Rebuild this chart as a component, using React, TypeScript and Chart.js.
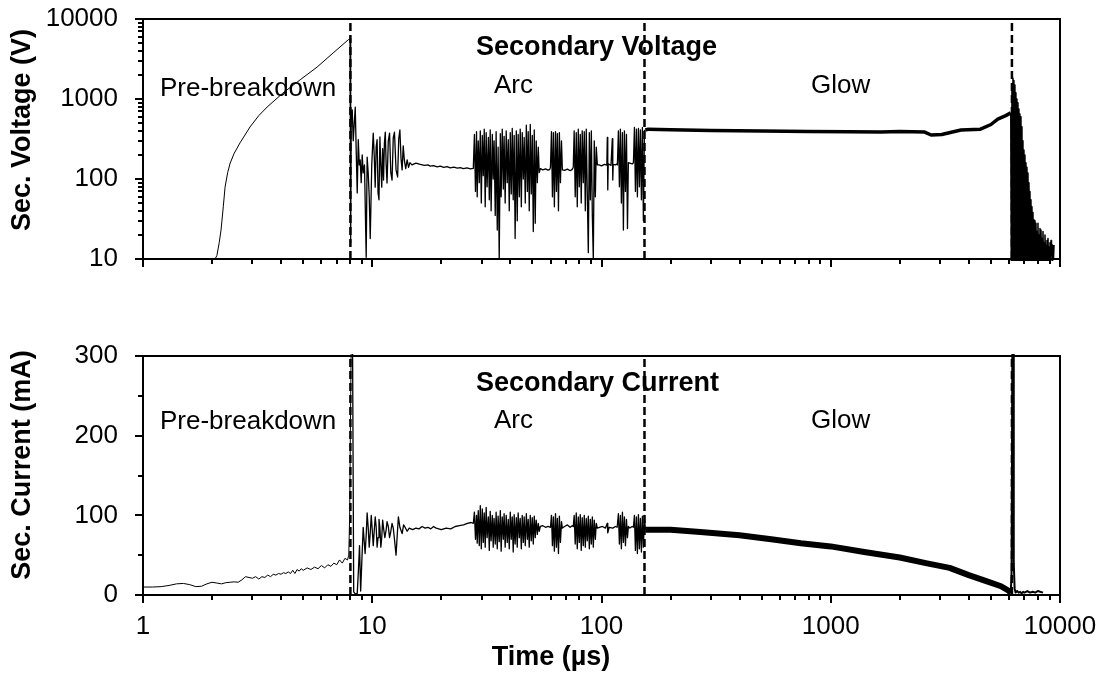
import React, { useEffect, useRef } from 'react';
import { Chart, registerables } from 'chart.js';

Chart.register(...registerables);

type Pt = [number, number];

// ---------- axis ticks / labels ----------
const timeTicks = [1, 10, 100, 1000, 10000];
const voltTicks = [10, 100, 1000, 10000];
const currTicks = [0, 100, 200, 300];
const currMinorTicks = [50, 150, 250];
const phaseBoundaries = [8.03, 154, 6170];
const phaseLabels = ['Pre-breakdown', 'Arc', 'Glow'];
const panelTitles = ['Secondary Voltage', 'Secondary Current'];
const axisTitles = ['Sec. Voltage (V)', 'Sec. Current (mA)', 'Time (\u00b5s)'];

// ---------- secondary voltage (time µs, volts) ----------
const voltPreBreakdown: Pt[] = [[2.06, 10], [2.1, 11], [2.15, 16], [2.19, 23], [2.24, 45], [2.28, 79], [2.34, 120], [2.4, 158], [2.5, 210], [2.65, 283], [2.93, 447], [3.2, 620], [3.48, 794], [4.08, 1190], [4.85, 1740], [5.75, 2510], [6.75, 3760], [7.86, 5500], [8.0, 5700]];

const voltArcRinging: Pt[] = [[8.0, 5700], [8.05, 16], [8.10, 700], [8.18, 730], [8.26, 300], [8.43, 790], [8.52, 200], [8.60, 67], [8.69, 310], [8.78, 150], [8.86, 173], [8.95, 90], [9.04, 200], [9.13, 119], [9.25, 150], [9.41, 10.5], [9.50, 188], [9.60, 120], [9.70, 60], [9.80, 18], [9.95, 150], [10.1, 375], [10.2, 200], [10.3, 79], [10.4, 250], [10.5, 310], [10.6, 67], [10.7, 55], [10.8, 335], [10.9, 150], [11.0, 79], [11.1, 240], [11.2, 97], [11.3, 283], [11.4, 385], [11.5, 150], [11.6, 89], [11.75, 300], [11.9, 375], [12.05, 120], [12.2, 97], [12.35, 330], [12.5, 385], [12.7, 130], [12.9, 106], [13.05, 320], [13.2, 410], [13.35, 180], [13.5, 130], [13.65, 260], [13.8, 173], [14.0, 135], [14.2, 173], [14.4, 140], [14.6, 160], [14.9, 150], [15.5, 158], [16.2, 152], [16.9, 148], [17.5, 150], [17.9, 145], [18.5, 147], [19.2, 142], [19.8, 145], [20.5, 140], [21.2, 143], [21.9, 138], [22.7, 141], [23.5, 137], [24.2, 139], [25.0, 135], [25.9, 138], [26.8, 134], [27.6, 136]];

const voltBurstA: Pt[] = [[27.6, 140], [27.9, 360], [28.2, 70], [28.5, 390], [28.7, 60], [29.0, 300], [29.3, 90], [29.6, 400], [29.9, 50], [30.2, 350], [30.5, 110], [30.8, 420], [31.1, 45], [31.4, 380], [31.7, 80], [32.1, 330], [32.4, 55], [32.7, 410], [33.0, 40], [33.4, 360], [33.7, 100], [34.0, 300], [34.4, 35], [34.7, 390], [35.1, 23], [35.4, 250], [35.8, 10], [36.2, 370], [36.5, 60], [36.9, 420], [37.3, 75], [37.6, 340], [38.0, 50], [38.4, 400], [38.8, 90], [39.2, 310], [39.6, 40], [40.0, 380], [40.4, 65], [40.8, 430], [41.2, 55], [41.6, 350], [42.0, 18], [42.5, 400], [42.9, 30], [43.3, 360], [43.8, 60], [44.2, 420], [44.7, 45], [45.1, 380], [45.6, 100], [46.0, 330], [46.5, 50], [47.0, 470], [47.5, 70], [47.9, 390], [48.4, 40], [48.9, 480], [49.4, 65], [49.9, 350], [50.4, 22], [50.9, 410], [51.4, 28], [51.9, 300], [52.5, 90], [53.0, 250], [53.5, 120], [54.1, 135]];
const voltFlat1: Pt[] = [[55.5, 130], [57, 134], [58.5, 129], [59.5, 132]];
const voltBurstB: Pt[] = [[59.9, 140], [60.5, 390], [61.1, 60], [61.7, 380], [62.3, 45], [63.0, 390], [63.6, 70], [64.2, 370], [64.9, 40], [65.5, 380], [66.2, 90], [66.9, 300], [67.5, 130]];
const voltFlat2: Pt[] = [[69, 128], [71, 133], [73, 127], [74.5, 132]];
const voltBurstC: Pt[] = [[75.3, 140], [76.0, 400], [76.8, 60], [77.6, 380], [78.4, 45], [79.2, 420], [80.0, 80], [80.8, 360], [81.6, 50], [82.4, 400], [83.3, 90], [84.1, 390], [85.0, 40], [85.8, 420], [86.7, 65], [87.6, 12], [88.5, 380], [89.4, 55], [90.3, 400], [91.2, 35], [92.1, 10], [93.0, 300], [94.0, 60], [94.9, 250], [95.9, 150]];
const voltFlat3: Pt[] = [[97.5, 150], [100, 146], [103, 152], [105.5, 149], [106, 330], [106.5, 73], [107, 155], [110, 148], [111.5, 320], [112, 97], [112.5, 152], [115, 150], [117, 155]];
const voltBurstD: Pt[] = [[117.3, 150], [118.5, 400], [119.7, 80], [120.9, 420], [122.1, 50], [123.4, 380], [124.6, 23], [125.9, 400], [127.2, 70], [128.5, 360], [129.8, 24], [131, 160]];
const voltFlat4: Pt[] = [[133, 158], [136, 154]];
const voltBurstE: Pt[] = [[137.8, 160], [139.2, 440], [140.6, 70], [142.0, 420], [143.4, 60], [144.9, 430], [146.3, 80], [147.8, 410], [149.3, 55], [150.8, 440], [152.3, 30], [153.9, 400], [155.4, 410]];

const voltGlow: Pt[] = [[155.4, 410], [160, 420], [200, 412], [300, 405], [500, 398], [800, 392], [1200, 390], [1650, 386], [2000, 392], [2570, 386], [2740, 355], [3050, 360], [3700, 410], [4500, 420], [5000, 480], [5350, 560], [5800, 620], [6100, 670]];

const voltTail: Pt[] = [[6100, 670], [6130, 8], [6170, 1500], [6200, 9], [6232, 1830], [6260, 12], [6295, 1700], [6330, 8], [6359, 1500], [6390, 15], [6423, 1200], [6455, 9], [6488, 1000], [6520, 20], [6554, 900], [6587, 8], [6620, 750], [6650, 12], [6687, 650], [6720, 9], [6755, 600], [6790, 25], [6823, 450], [6860, 8], [6892, 300], [6930, 14], [6962, 230], [7000, 9], [7032, 200], [7070, 18], [7103, 160], [7140, 8], [7175, 140], [7210, 11], [7248, 119], [7285, 9], [7321, 90], [7360, 14], [7395, 70], [7430, 8], [7470, 55], [7510, 12], [7545, 45], [7580, 9], [7622, 38], [7660, 11], [7699, 31], [7740, 8], [7777, 30], [7815, 13], [7855, 28], [7895, 9], [7935, 22], [7975, 12], [8015, 28], [8055, 8], [8096, 20], [8137, 14], [8178, 24], [8220, 9], [8261, 23], [8300, 12], [8344, 18], [8386, 8], [8429, 22], [8470, 11], [8514, 16], [8557, 9], [8600, 20], [8644, 12], [8687, 15], [8730, 8], [8775, 17], [8820, 11], [8864, 18], [8910, 9], [8954, 14], [9000, 12], [9044, 16], [9090, 8], [9136, 17], [9180, 11], [9228, 15], [9275, 9], [9322, 14], [9370, 10], [9416, 15]];

// ---------- secondary current (time µs, mA) ----------
const currPreBreakdown: Pt[] = [[1.0, 10], [1.1, 10], [1.2, 10.5], [1.3, 12], [1.4, 14], [1.5, 14.5], [1.6, 13], [1.7, 10.5], [1.8, 11], [1.9, 14], [2.0, 16], [2.1, 15], [2.2, 14], [2.3, 15.5], [2.4, 16], [2.5, 16.5], [2.6, 16], [2.7, 19], [2.8, 23], [2.9, 22], [3.0, 21], [3.1, 23], [3.2, 20], [3.3, 23], [3.4, 22], [3.5, 25], [3.6, 23], [3.7, 26], [3.8, 25], [3.9, 27], [4.0, 26], [4.1, 28], [4.2, 27], [4.3, 29], [4.4, 27], [4.5, 31], [4.6, 27], [4.7, 32], [4.8, 30], [4.9, 33], [5.0, 31], [5.2, 34], [5.4, 32], [5.6, 35], [5.8, 33], [6.0, 37], [6.2, 34], [6.4, 38], [6.6, 36], [6.8, 40], [7.0, 38], [7.2, 44], [7.4, 40], [7.6, 46], [7.8, 44], [7.9, 50], [7.97, 100], [8.1, 330]];

const currArcRinging: Pt[] = [[8.1, 330], [8.2, 330], [8.3, 4], [8.45, 1], [8.6, 2], [8.7, 30], [8.8, 62], [8.9, 5], [9.0, 40], [9.13, 85], [9.22, 68], [9.31, 52], [9.41, 75], [9.50, 103], [9.60, 85], [9.70, 60], [9.80, 78], [9.90, 100], [10.0, 82], [10.1, 62], [10.2, 80], [10.3, 98], [10.4, 86], [10.5, 60], [10.6, 72], [10.7, 95], [10.8, 84], [10.9, 60], [11.0, 72], [11.1, 94], [11.2, 84], [11.35, 72], [11.5, 82], [11.6, 92], [11.75, 86], [11.9, 72], [12.05, 80], [12.2, 90], [12.35, 84], [12.5, 70], [12.7, 50], [12.85, 75], [13.0, 98], [13.2, 85], [13.5, 77], [13.7, 88], [13.9, 85], [14.2, 80], [14.5, 84], [15.0, 82], [15.5, 84], [16.0, 83], [16.5, 86], [17.0, 84], [17.5, 85], [18.0, 83], [18.5, 86], [19.0, 84], [19.5, 83], [20.0, 82], [21.0, 84], [22.0, 83], [23.0, 86], [24.0, 87], [25.0, 88], [26.0, 90], [27.0, 91], [27.6, 90]];

const currBurstA: Pt[] = [[27.6, 90], [27.9, 104], [28.2, 70], [28.5, 100], [28.7, 65], [29.0, 106], [29.3, 62], [29.6, 112], [29.9, 58], [30.2, 108], [30.5, 66], [30.8, 103], [31.1, 60], [31.4, 110], [31.7, 72], [32.1, 98], [32.4, 56], [32.7, 105], [33.0, 68], [33.4, 100], [33.7, 60], [34.0, 96], [34.4, 64], [34.7, 104], [35.1, 58], [35.4, 99], [35.8, 67], [36.2, 106], [36.5, 55], [36.9, 98], [37.3, 70], [37.6, 102], [38.0, 60], [38.4, 100], [38.8, 66], [39.2, 95], [39.6, 58], [40.0, 104], [40.4, 70], [40.8, 98], [41.2, 54], [41.6, 101], [42.0, 64], [42.5, 97], [42.9, 60], [43.3, 103], [43.8, 72], [44.2, 96], [44.7, 58], [45.1, 100], [45.6, 66], [46.0, 98], [46.5, 62], [47.0, 102], [47.5, 70], [47.9, 95], [48.4, 60], [48.9, 100], [49.4, 68], [49.9, 97], [50.4, 64], [50.9, 99], [51.4, 72], [51.9, 94], [52.5, 76], [53.0, 90], [53.5, 80], [54.1, 86]];
const currFlat1: Pt[] = [[55.5, 87], [57, 85], [58.5, 86]];
const currBurstB: Pt[] = [[59.9, 85], [60.5, 100], [61.1, 62], [61.7, 98], [62.3, 55], [63.0, 102], [63.6, 60], [64.2, 96], [64.9, 52], [65.5, 99], [66.2, 66], [66.9, 92], [67.5, 84]];
const currFlat2: Pt[] = [[69, 86], [71, 88], [73, 85], [74.5, 87]];
const currBurstC: Pt[] = [[75.3, 86], [76.0, 100], [76.8, 64], [77.6, 103], [78.4, 58], [79.2, 98], [80.0, 66], [80.8, 101], [81.6, 56], [82.4, 97], [83.3, 62], [84.1, 100], [85.0, 60], [85.8, 96], [86.7, 68], [87.6, 99], [88.5, 58], [89.4, 95], [90.3, 64], [91.2, 98], [92.1, 60], [93.0, 94], [94.0, 70], [94.9, 90], [95.9, 84]];
const currFlat3: Pt[] = [[98, 85], [101, 86], [104, 84], [106, 90], [106.5, 78], [108, 85], [112, 84], [115, 86], [117, 85]];
const currBurstD: Pt[] = [[117.3, 85], [118.5, 102], [119.7, 64], [120.9, 100], [122.1, 58], [123.4, 104], [124.6, 66], [125.9, 98], [127.2, 62], [128.5, 95], [129.8, 72], [131, 86]];
const currFlat4: Pt[] = [[133, 84], [136, 86]];
const currBurstE: Pt[] = [[137.8, 85], [139.2, 100], [140.6, 56], [142.0, 98], [143.4, 52], [144.9, 101], [146.3, 58], [147.8, 96], [149.3, 54], [150.8, 99], [152.3, 60], [153.9, 100], [155.4, 82]];

const currGlow: Pt[] = [[155.4, 82], [200, 82], [270, 79], [400, 75], [550, 70], [740, 65], [1000, 61], [1400, 54], [2000, 47], [2600, 40], [3300, 34], [4000, 25], [4700, 18], [5530, 11], [6000, 5], [6100, 2]];

const currTail: Pt[] = [[6100, 2], [6150, 30], [6200, 330], [6240, 330], [6270, 60], [6300, 40], [6340, 8], [6400, 3], [6500, 5], [6600, 3], [6700, 4], [6800, 2], [6900, 4], [7000, 3], [7200, 5], [7400, 3], [7600, 4], [7800, 3], [8000, 5], [8200, 4], [8430, 3]];

// ---------- helpers ----------
const FONT = '"Liberation Sans", Arial, Helvetica, sans-serif';
const toXY = (arr: Pt[]) => arr.map(([x, y]) => ({ x, y }));
const logMinors = (lo: number, hi: number) => {
  const out: number[] = [];
  for (let d = lo; d < hi; d *= 10) for (let k = 2; k <= 9; k++) out.push(d * k);
  return out;
};

type TextItem = { text: string; x: number; y: number; size: number; bold?: boolean; align?: CanvasTextAlign; rotate?: number };

const makeFramePlugin = (xMajor: number[], xMinor: number[], yMajor: number[], yMinor: number[]) => ({
  id: 'frameTicks',
  afterDatasetsDraw(chart: any) {
    const { ctx, chartArea: a } = chart;
    const xs = chart.scales.x;
    const ys = chart.scales.y;
    ctx.save();
    ctx.strokeStyle = '#000';
    ctx.lineWidth = 2;
    ctx.lineCap = 'butt';
    ctx.beginPath();
    const vx = (v: number, len: number) => {
      const p = Math.round(xs.getPixelForValue(v));
      ctx.moveTo(p, a.bottom);
      ctx.lineTo(p, a.bottom + len);
    };
    const hy = (v: number, len: number) => {
      const p = Math.round(ys.getPixelForValue(v));
      ctx.moveTo(a.left - len, p);
      ctx.lineTo(a.left, p);
    };
    xMajor.forEach((v) => vx(v, 8));
    xMinor.forEach((v) => vx(v, 5));
    yMajor.forEach((v) => hy(v, 8));
    yMinor.forEach((v) => hy(v, 5));
    ctx.stroke();
    ctx.strokeRect(a.left, a.top, a.right - a.left, a.bottom - a.top);
    ctx.restore();
  },
});

const makeTextPlugin = (items: TextItem[], offsetY: number) => ({
  id: 'texts',
  afterDraw(chart: any) {
    const ctx = chart.ctx;
    items.forEach((t) => {
      ctx.save();
      ctx.font = `${t.bold ? 'bold ' : ''}${t.size}px ${FONT}`;
      ctx.fillStyle = '#000';
      ctx.textAlign = t.align || 'left';
      ctx.textBaseline = 'middle';
      ctx.translate(t.x, t.y - offsetY);
      if (t.rotate) ctx.rotate(t.rotate);
      ctx.fillText(t.text, 0, 0);
      ctx.restore();
    });
  },
});

const series = (arr: Pt[], width: number) => ({
  data: toXY(arr),
  showLine: true,
  borderColor: '#000',
  backgroundColor: '#000',
  borderWidth: width,
  pointRadius: 0,
  borderJoinStyle: 'round' as const,
  fill: false,
  clip: 2,
});

const dashed = (t: number, y0: number, y1: number) => ({
  data: [{ x: t, y: y0 }, { x: t, y: y1 }],
  showLine: true,
  borderColor: '#000',
  borderWidth: 2.5,
  borderDash: [8, 4],
  pointRadius: 0,
  fill: false,
});

const zeroPad = (s: any) => {
  s.paddingLeft = 0;
  s.paddingRight = 0;
  s.paddingTop = 0;
  s.paddingBottom = 0;
};

const baseOptions = (padTop: number, xHeight: number, showXLabels: boolean, yScale: any) => ({
  animation: false as const,
  responsive: false,
  devicePixelRatio: 1,
  events: [] as any[],
  layout: { padding: { top: padTop, right: 42, bottom: 0, left: 0 } },
  plugins: { legend: { display: false }, tooltip: { enabled: false }, title: { display: false } },
  scales: {
    x: {
      type: 'logarithmic' as const,
      min: 1,
      max: 10000,
      grid: { display: false, drawTicks: false },
      border: { display: false },
      ticks: {
        display: showXLabels,
        autoSkip: false,
        maxRotation: 0,
        padding: 16,
        color: '#000',
        font: { family: FONT, size: 26 },
        callback: (v: any) => String(v),
      },
      afterBuildTicks: (s: any) => {
        s.ticks = timeTicks.map((v) => ({ value: v }));
      },
      afterFit: (s: any) => {
        s.height = xHeight;
        zeroPad(s);
      },
    },
    y: yScale,
  },
});

export default function App() {
  const topRef = useRef<HTMLCanvasElement | null>(null);
  const botRef = useRef<HTMLCanvasElement | null>(null);

  useEffect(() => {
    if (!topRef.current || !botRef.current) return;

    const voltArc = [...voltArcRinging, ...voltBurstA, ...voltFlat1, ...voltBurstB, ...voltFlat2, ...voltBurstC, ...voltFlat3, ...voltBurstD, ...voltFlat4, ...voltBurstE];
    const currArc = [...currArcRinging, ...currBurstA, ...currFlat1, ...currBurstB, ...currFlat2, ...currBurstC, ...currFlat3, ...currBurstD, ...currFlat4, ...currBurstE];

    const topTexts: TextItem[] = [
      { text: panelTitles[0], x: 476, y: 47.5, size: 27, bold: true },
      { text: phaseLabels[0], x: 160, y: 88.5, size: 26 },
      { text: phaseLabels[1], x: 494, y: 86, size: 26 },
      { text: phaseLabels[2], x: 811, y: 86, size: 26 },
      { text: axisTitles[0], x: 23, y: 130, size: 27, bold: true, align: 'center', rotate: -Math.PI / 2 },
    ];
    const botTexts: TextItem[] = [
      { text: panelTitles[1], x: 476, y: 384, size: 27, bold: true },
      { text: phaseLabels[0], x: 160, y: 421.5, size: 26 },
      { text: phaseLabels[1], x: 494, y: 421, size: 26 },
      { text: phaseLabels[2], x: 811, y: 421, size: 26 },
      { text: axisTitles[1], x: 23, y: 465, size: 27, bold: true, align: 'center', rotate: -Math.PI / 2 },
      { text: axisTitles[2], x: 551, y: 657.5, size: 27, bold: true, align: 'center' },
    ];

    const timeMinor = logMinors(1, 10000);

    const yCommon = (ticks: number[]) => ({
      grid: { display: false, drawTicks: false },
      border: { display: false },
      ticks: { padding: 25, color: '#000', font: { family: FONT, size: 26 }, autoSkip: false, callback: (v: any) => String(v) },
      afterBuildTicks: (s: any) => {
        s.ticks = ticks.map((v) => ({ value: v }));
      },
      afterFit: (s: any) => {
        s.width = 143;
        zeroPad(s);
      },
    });

    const topChart = new Chart(topRef.current, {
      type: 'scatter',
      data: {
        datasets: [
          ...phaseBoundaries.map((t) => dashed(t, 10, 10000)),
          series(voltPreBreakdown, 1),
          series(voltArc, 1.3),
          series(voltGlow, 3.5),
          series(voltTail, 1.5),
        ] as any,
      },
      options: baseOptions(19, 41, false, { type: 'logarithmic', min: 10, max: 10000, ...yCommon(voltTicks) }) as any,
      plugins: [makeFramePlugin(timeTicks, timeMinor, voltTicks, logMinors(10, 10000)), makeTextPlugin(topTexts, 0)],
    });

    const botChart = new Chart(botRef.current, {
      type: 'scatter',
      data: {
        datasets: [
          ...phaseBoundaries.map((t) => dashed(t, 0, 300)),
          series(currPreBreakdown, 1),
          series(currArc, 1.3),
          series(currGlow, 6),
          series(currTail, 2),
        ] as any,
      },
      options: baseOptions(56, 92, true, { type: 'linear', min: 0, max: 300, ...yCommon(currTicks) }) as any,
      plugins: [makeFramePlugin(timeTicks, timeMinor, currTicks, currMinorTicks), makeTextPlugin(botTexts, 300)],
    });

    return () => {
      topChart.destroy();
      botChart.destroy();
    };
  }, []);

  return (
    <div style={{ position: 'absolute', left: 0, top: 0, width: 1102, height: 687, background: '#fff' }}>
      <canvas ref={topRef} width={1102} height={300} style={{ position: 'absolute', left: 0, top: 0, width: 1102, height: 300 }} />
      <canvas ref={botRef} width={1102} height={387} style={{ position: 'absolute', left: 0, top: 300, width: 1102, height: 387 }} />
    </div>
  );
}
